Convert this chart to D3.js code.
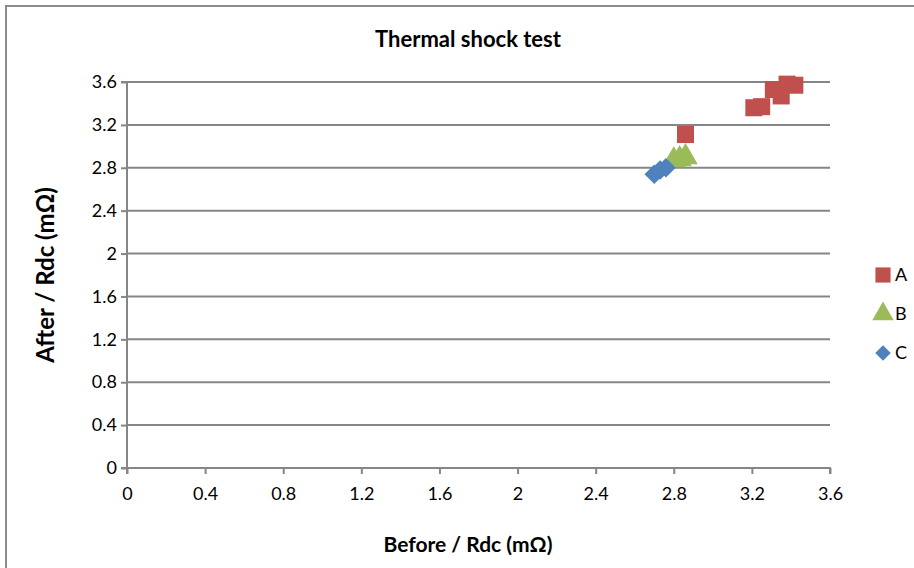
<!DOCTYPE html>
<html>
<head>
<meta charset="utf-8">
<script src="https://cdn.jsdelivr.net/npm/d3@7"></script>
<style>
  body { margin: 0; background: #fff; }
  text { font-family: Lato, "Open Sans", Arial, sans-serif; fill: #000; }
</style>
</head>
<body>
<div id="chart"></div>
<script>
// data (mΩ)
var seriesNames = ["A", "B", "C"];
var seriesColors = ["#C0504D", "#9BBB59", "#4F81BD"];
var aBefore = [2.86, 3.21, 3.25, 3.31, 3.35, 3.38, 3.42];
var aAfter  = [3.11, 3.36, 3.37, 3.53, 3.47, 3.58, 3.57];
var bBefore = [2.80, 2.83, 2.86];
var bAfter  = [2.87, 2.88, 2.90];
var cBefore = [2.70, 2.73, 2.76];
var cAfter  = [2.74, 2.78, 2.80];
var tickValues = [0, 0.4, 0.8, 1.2, 1.6, 2, 2.4, 2.8, 3.2, 3.6];

var width = 914, height = 568;
var margin = { top: 82, right: 84, bottom: 100, left: 127 };
var w = width - margin.left - margin.right,
    h = height - margin.top - margin.bottom;

var svg = d3.select("#chart").append("svg")
    .attr("width", width)
    .attr("height", height);

// outer frame
svg.append("rect")
    .attr("x", 6).attr("y", 6)
    .attr("width", width + 10).attr("height", height + 10)
    .attr("fill", "none")
    .attr("stroke", "#8c8c8c")
    .attr("stroke-width", 2);

var g = svg.append("g")
    .attr("transform", "translate(" + margin.left + "," + margin.top + ")");

var x = d3.scaleLinear().domain([0, 3.6]).range([0, w]);
var y = d3.scaleLinear().domain([0, 3.6]).range([h, 0]);

// horizontal gridlines
g.selectAll(".grid")
    .data(tickValues.slice(1))
    .enter().append("line")
    .attr("class", "grid")
    .attr("x1", 0).attr("x2", w)
    .attr("y1", function(d) { return y(d); })
    .attr("y2", function(d) { return y(d); })
    .attr("stroke", "#868686")
    .attr("stroke-width", 2);

var xAxis = d3.axisBottom(x).tickValues(tickValues).tickSize(6).tickFormat(d3.format("~g"));
var yAxis = d3.axisLeft(y).tickValues(tickValues).tickSize(6).tickFormat(d3.format("~g"));

function styleAxis(sel) {
    sel.selectAll("path, line").attr("stroke", "#868686").attr("stroke-width", 2);
    sel.selectAll("text").style("font-size", "18px").attr("fill", "#000");
}

g.append("g")
    .attr("transform", "translate(0," + h + ")")
    .call(xAxis)
    .call(function(s) { s.select(".domain").attr("d", "M0,6V0H" + w + "V6"); })
    .call(styleAxis)
    .selectAll("text").attr("dy", "1.3em");

g.append("g")
    .call(yAxis)
    .call(function(s) { s.select(".domain").attr("d", "M-6,0H0V" + h + "H-6"); })
    .call(styleAxis)
    .selectAll("text").attr("x", -10);

// points
var symbols = [d3.symbolSquare, d3.symbolTriangle, d3.symbolSquare];
var sizes = [290, 260, 190];
var rotations = [0, 0, 45];
var allSeries = [
    d3.zip(aBefore, aAfter),
    d3.zip(bBefore, bAfter),
    d3.zip(cBefore, cAfter)
];

allSeries.forEach(function(pts, i) {
    g.selectAll(".pt" + i)
        .data(pts)
        .enter().append("path")
        .attr("class", "pt" + i)
        .attr("d", d3.symbol().type(symbols[i]).size(sizes[i]))
        .attr("transform", function(d) {
            return "translate(" + x(d[0]) + "," + y(d[1]) + ") rotate(" + rotations[i] + ")";
        })
        .attr("fill", seriesColors[i]);
});

// title and axis labels
svg.append("text")
    .attr("x", 468).attr("y", 47)
    .attr("text-anchor", "middle")
    .style("font-size", "22px").style("font-weight", "bold")
    .text("Thermal shock test");

svg.append("text")
    .attr("x", 468).attr("y", 552)
    .attr("text-anchor", "middle")
    .style("font-size", "21px").style("font-weight", "bold")
    .text("Before / Rdc (mΩ)");

svg.append("text")
    .attr("transform", "translate(54,275) rotate(-90)")
    .attr("text-anchor", "middle")
    .style("font-size", "24px").style("font-weight", "bold")
    .text("After / Rdc (mΩ)");

// legend
var legendSizes = [230, 200, 120];
var legend = svg.selectAll(".legend")
    .data(seriesNames)
    .enter().append("g")
    .attr("class", "legend")
    .attr("transform", function(d, i) { return "translate(883," + (275 + i * 39) + ")"; });

legend.append("path")
    .attr("d", function(d, i) { return d3.symbol().type(symbols[i]).size(legendSizes[i])(); })
    .attr("transform", function(d, i) { return "rotate(" + rotations[i] + ")"; })
    .attr("fill", function(d, i) { return seriesColors[i]; });

legend.append("text")
    .attr("x", 12).attr("dy", "0.35em")
    .style("font-size", "18px")
    .text(function(d) { return d; });
</script>
</body>
</html>
